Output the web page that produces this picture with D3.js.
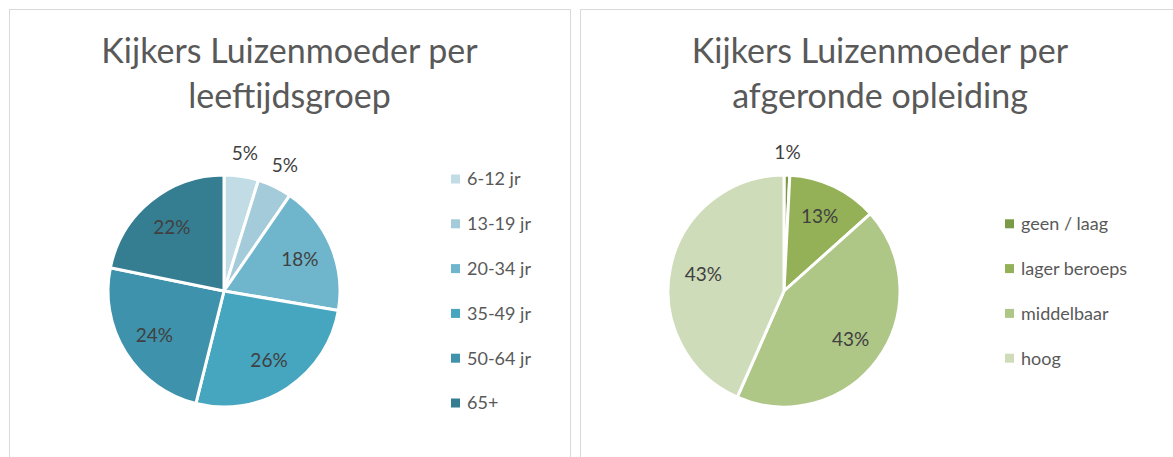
<!DOCTYPE html>
<html>
<head>
<meta charset="utf-8">
<script src="https://cdn.jsdelivr.net/npm/d3@7"></script>
<style>
  html, body { margin: 0; padding: 0; background: #fff; }
  svg { display: block; }
  text { font-family: Lato, 'Open Sans', sans-serif; }
  .pct, .legend text { font-variant-numeric: tabular-nums; }
</style>
</head>
<body>
<svg id="chart" width="1173" height="457"></svg>
<script>
'use strict';

// leeftijdsgroep
var ageCategories = ['6-12 jr', '13-19 jr', '20-34 jr', '35-49 jr', '50-64 jr', '65+'];
var ageValues = [4.8, 4.8, 18.1, 26.2, 24.3, 21.8];
var ageTitle = ['Kijkers Luizenmoeder per', 'leeftijdsgroep'];

// afgeronde opleiding
var eduCategories = ['geen / laag', 'lager beroeps', 'middelbaar', 'hoog'];
var eduValues = [0.8, 12.6, 43.2, 43.4];
var eduTitle = ['Kijkers Luizenmoeder per', 'afgeronde opleiding'];

var ageColors = ['#C1DCE5', '#A3CBDA', '#6FB6CC', '#46A5BF', '#3F92AB', '#357E92'];
var eduColors = ['#799B45', '#94B157', '#AEC686', '#CFDCBA'];

var svg = d3.select('#chart');

function drawPanel(options) {
  var g = svg.append('g');

  // panel frame
  g.append('rect')
    .attr('x', options.x + 0.5)
    .attr('y', 9.5)
    .attr('width', options.width)
    .attr('height', 500)
    .attr('fill', '#fff')
    .attr('stroke', '#D9D9D9')
    .attr('stroke-width', 1);

  // title, two lines
  g.append('text')
    .attr('x', options.x + options.width / 2)
    .attr('text-anchor', 'middle')
    .attr('fill', '#595959')
    .style('font-size', '34px')
    .selectAll('tspan')
    .data(options.title)
    .enter().append('tspan')
      .attr('x', options.x + options.width / 2)
      .attr('y', function(d, i) { return 63 + i * 45; })
      .text(function(d) { return d; });

  var total = d3.sum(options.values);
  var data = options.values.map(function(v, i) {
    return { label: options.categories[i], value: v, color: options.colors[i] };
  });

  var pie = d3.pie()
    .sort(null)
    .value(function(d) { return d.value; });

  var r = 116;
  var arc = d3.arc().innerRadius(0).outerRadius(r);
  var inLabel = d3.arc().innerRadius(r * 0.71).outerRadius(r * 0.71);
  var outLabel = d3.arc().innerRadius(r * 1.2).outerRadius(r * 1.2);

  var pieG = g.append('g')
    .attr('transform', 'translate(' + options.cx + ',' + options.cy + ')');

  var arcs = pie(data);

  pieG.selectAll('path')
    .data(arcs)
    .enter().append('path')
      .attr('d', arc)
      .attr('fill', function(d) { return d.data.color; })
      .attr('stroke', '#fff')
      .attr('stroke-width', 3)
      .attr('stroke-linejoin', 'round');

  pieG.selectAll('text.pct')
    .data(arcs)
    .enter().append('text')
      .attr('class', 'pct')
      .attr('transform', function(d) {
        var small = d.data.value / total < 0.06;
        return 'translate(' + (small ? outLabel : inLabel).centroid(d) + ')';
      })
      .attr('text-anchor', 'middle')
      .attr('dy', '0.35em')
      .attr('fill', '#404040')
      .style('font-size', '19px')
      .text(function(d) { return Math.round(d.data.value / total * 100) + '%'; });

  // legend, centered on the pie
  var step = 44.8;
  var top = options.cy - (data.length - 1) * step / 2;
  var legend = g.selectAll('g.legend')
    .data(data)
    .enter().append('g')
      .attr('class', 'legend')
      .attr('transform', function(d, i) {
        return 'translate(' + options.legendX + ',' + (top + i * step) + ')';
      });

  legend.append('rect')
    .attr('x', 0)
    .attr('y', -4.5)
    .attr('width', 9)
    .attr('height', 9)
    .attr('fill', function(d) { return d.color; });

  legend.append('text')
    .attr('x', 16)
    .attr('dy', '0.35em')
    .attr('fill', '#595959')
    .style('font-size', '18px')
    .text(function(d) { return d.label; });
}

drawPanel({
  x: 9, width: 561,
  title: ageTitle,
  categories: ageCategories, values: ageValues, colors: ageColors,
  cx: 224, cy: 291, legendX: 451
});

drawPanel({
  x: 580, width: 600,
  title: eduTitle,
  categories: eduCategories, values: eduValues, colors: eduColors,
  cx: 784, cy: 291, legendX: 1005
});
</script>
</body>
</html>
